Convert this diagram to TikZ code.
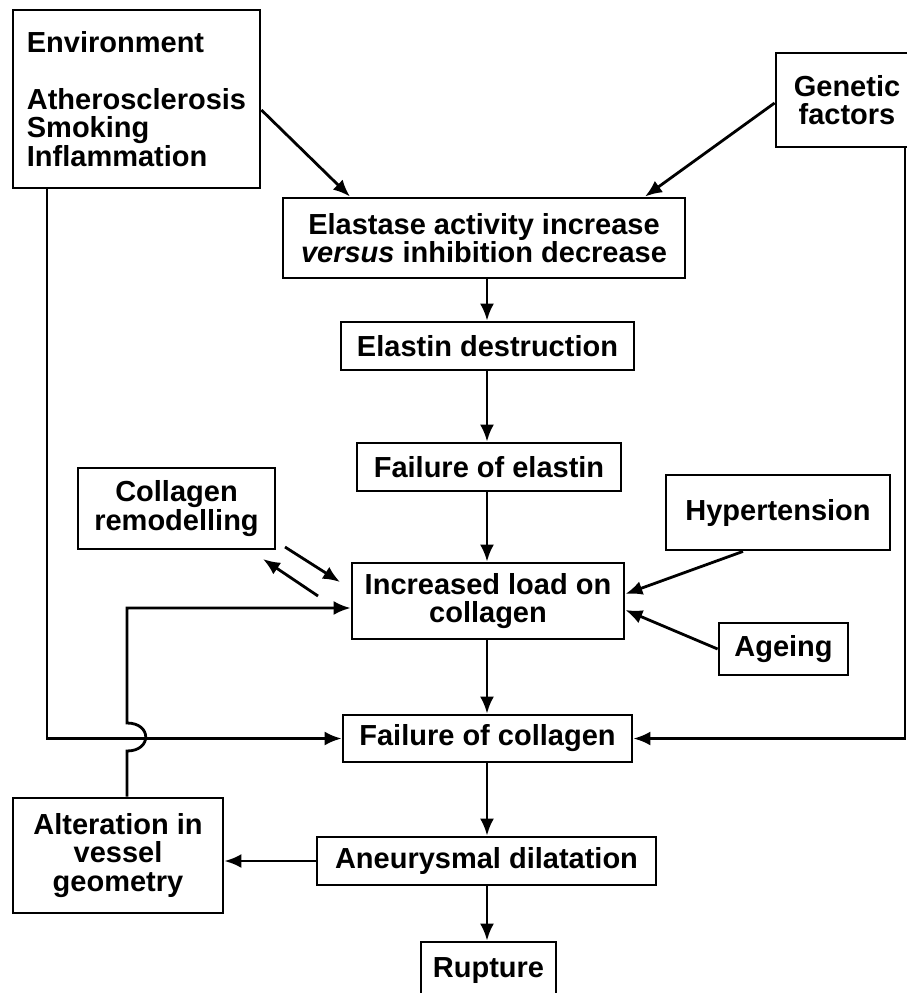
\documentclass[tikz,border=0pt]{standalone}
\usepackage{fontspec}
\setmainfont{Liberation Sans}
\usetikzlibrary{arrows.meta}

\tikzset{
    box/.style={draw, line width=2.8pt, align=center, inner sep=0pt,
        font=\bfseries\fontsize{29}{28.5}\selectfont},
    arr/.style={line width=2.8pt, -{Latex[length=17pt,width=14pt]}},
}

\begin{document}
\begin{tikzpicture}[x=1pt,y=-1pt]
    \useasboundingbox (0,0) rectangle (906,993);
    % boxes: centre, width and height as in the scan
    \node[box, align=left, minimum width=247pt, minimum height=178pt] (env) at (136.5,99)
        {Environment\\[28.5pt]Atherosclerosis\\Smoking\\Inflammation};
    \node[box, minimum width=142pt, minimum height=94pt] (gen) at (847,100) {Genetic\\factors};
    \node[box, minimum width=402pt, minimum height=80pt] (elast) at (484,238)
        {Elastase activity increase\\\textit{versus} inhibition decrease};
    \node[box, minimum width=293pt, minimum height=48pt] (edes) at (487.5,346) {Elastin destruction};
    \node[box, minimum width=264pt, minimum height=48pt] (felas) at (489,467) {Failure of elastin};
    \node[box, minimum width=197pt, minimum height=81pt] (colrem) at (176.5,508.5) {Collagen\\remodelling};
    \node[box, minimum width=224pt, minimum height=75pt] (hyp) at (778,512.5) {Hypertension};
    \node[box, minimum width=272pt, minimum height=76pt] (incl) at (488,601) {Increased load on\\collagen};
    \node[box, minimum width=129pt, minimum height=52pt] (age) at (783.5,649) {Ageing};
    \node[box, minimum width=289pt, minimum height=47pt] (fcol) at (487.5,738.5) {Failure of collagen};
    \node[box, minimum width=210pt, minimum height=115pt] (alt) at (118,855.5) {Alteration in\\vessel\\geometry};
    \node[box, minimum width=339pt, minimum height=48pt] (aneu) at (486.5,861) {Aneurysmal dilatation};
    \node[box, minimum width=135pt, minimum height=58pt] (rupt) at (488.5,971) {Rupture};

    \coordinate (col) at (487,0);
    \coordinate (rA) at (285,547);
    \coordinate (rB) at (340,582);
    \coordinate (rC) at (318,596);
    \coordinate (rD) at (263,559);

    % main chain
    \draw[arr] (env.east |- 0,110) -- (elast.north -| 350,0);
    \draw[arr] (gen.west |- 0,103) -- (elast.north -| 645,0);
    \draw[arr] (elast.south -| col) -- (edes.north -| col);
    \draw[arr] (edes.south -| col) -- (felas.north -| col);
    \draw[arr] (felas.south -| col) -- (incl.north -| col);
    \draw[arr] (incl.south -| col) -- (fcol.north -| col);
    \draw[arr] (fcol.south -| col) -- (aneu.north -| col);
    \draw[arr] (aneu.south -| col) -- (rupt.north -| col);

    % side influences
    \draw[arr] (rA) -- (rB);
    \draw[arr] (rC) -- (rD);
    \draw[arr] (hyp.south -| 743,0) -- (incl.east |- 0,594);
    \draw[arr] (age.west) -- (incl.east |- 0,610);
    \draw[arr] (env.south -| 47,0) |- (fcol.west);
    \draw[arr] (gen.south -| 905,0) |- (fcol.east);
    \draw[arr] (aneu.west) -- (alt.east |- aneu.west);
    % feedback, hopping over the environment line
    \draw[arr] (alt.north -| 127,0) -- (127,751) .. controls (152,751) and (152,723) .. (127,723)
        |- (incl.west |- 0,608);
\end{tikzpicture}
\end{document}
